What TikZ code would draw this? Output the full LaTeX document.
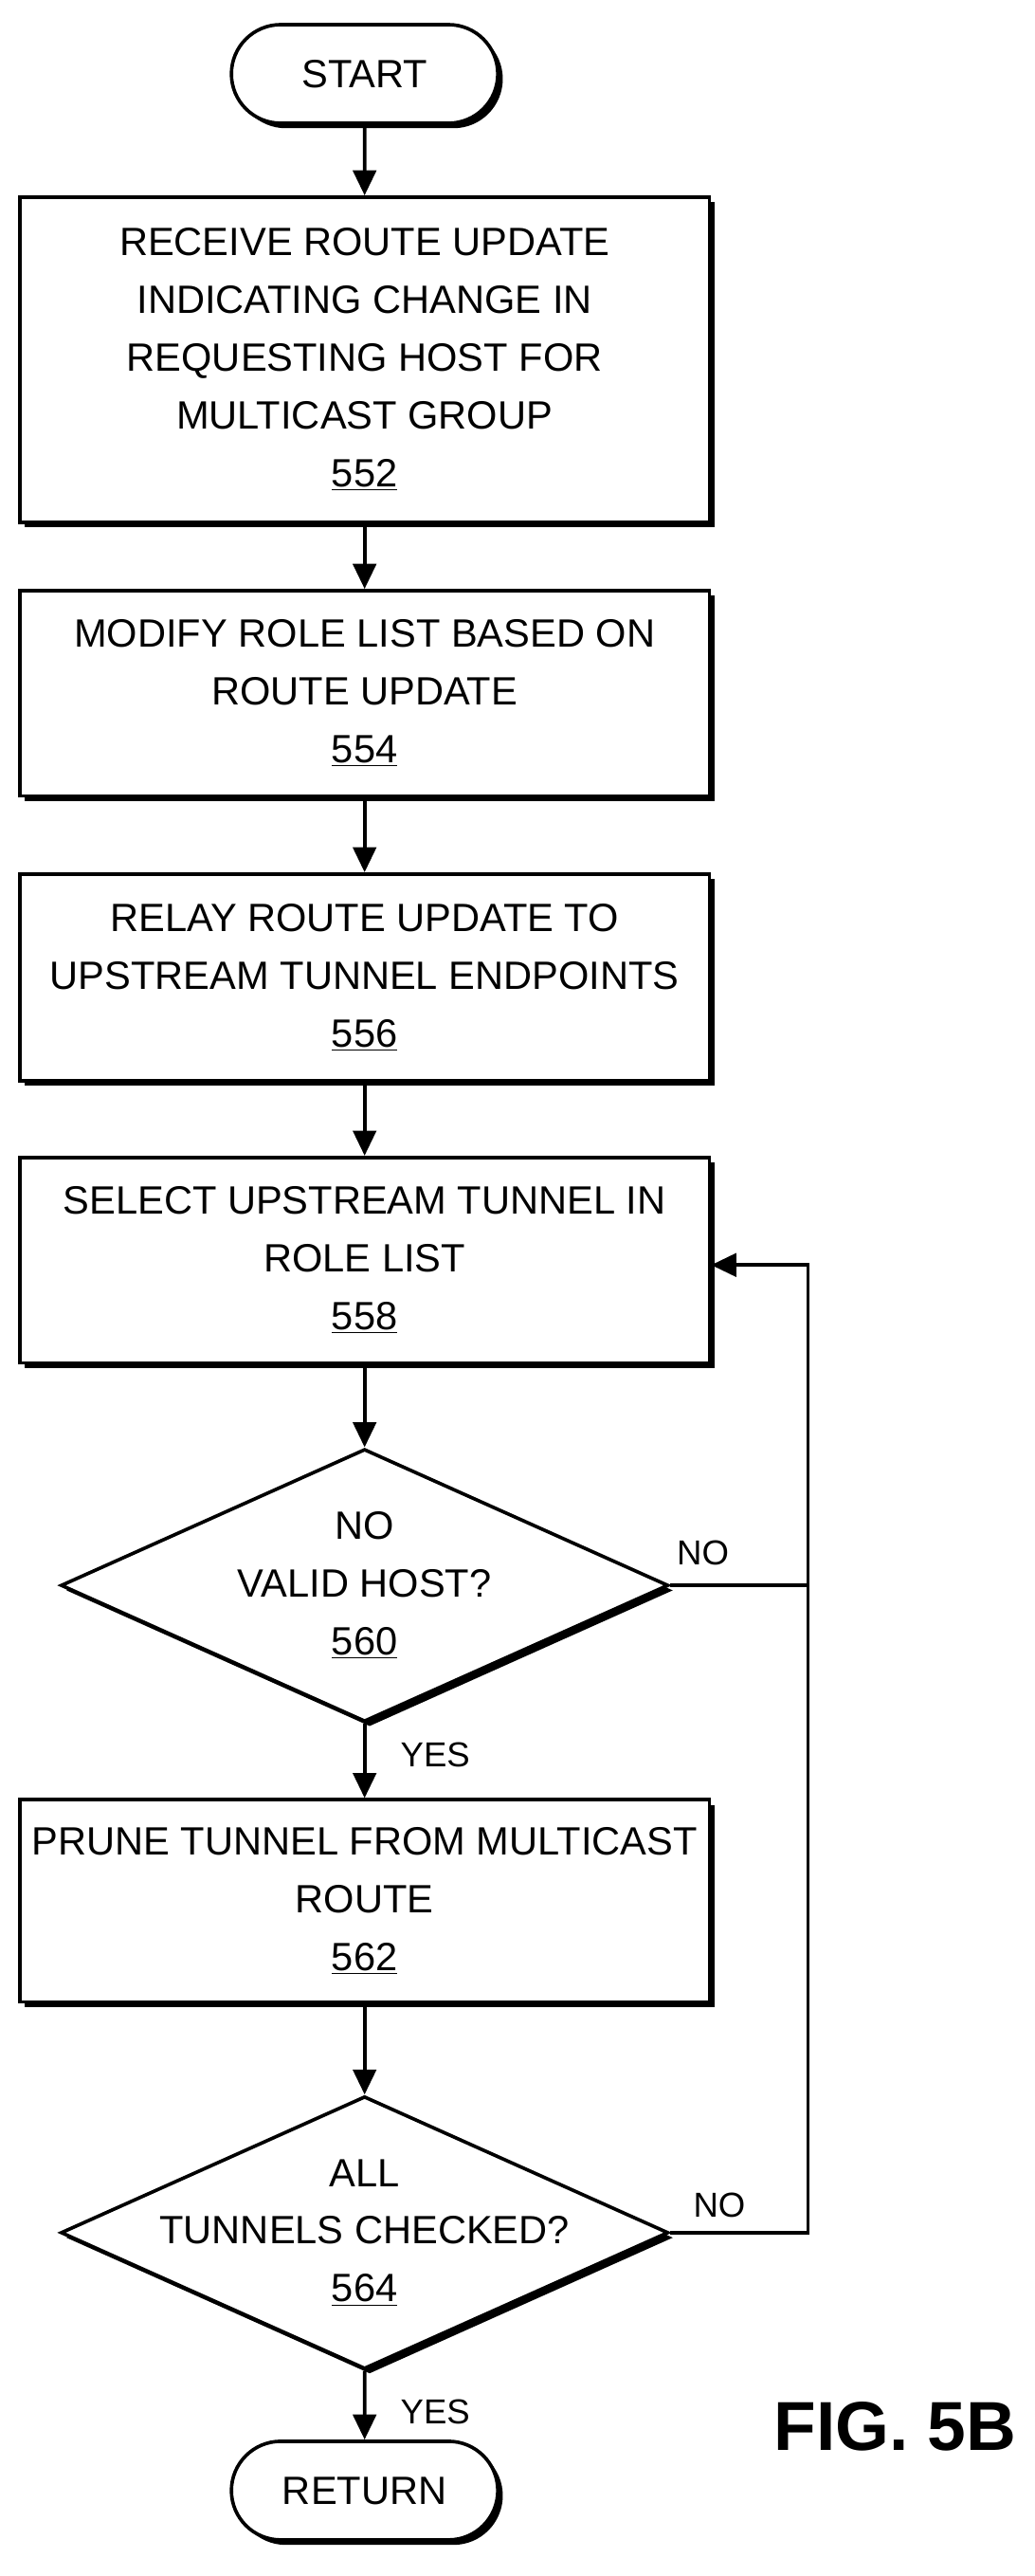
\documentclass[tikz,border=0pt]{standalone}
\usepackage{fontspec}
\setmainfont{Liberation Sans}
\usetikzlibrary{shapes.geometric,shapes.misc,arrows.meta}
\begin{document}
\begin{tikzpicture}[x=0.03cm,y=-0.03cm,
  sh/.style={preaction={fill=black,transform canvas={xshift=2.6pt,yshift=-2.6pt}}},
  box/.style={draw,line width=1.8pt,fill=white,sh,minimum width=420*0.03cm,align=center,font=\fontsize{20.5}{30}\selectfont,inner sep=0pt},
  term/.style={draw,line width=1.8pt,fill=white,sh,rounded rectangle,minimum width=170*0.03cm,minimum height=60*0.03cm,font=\fontsize{20.5}{30}\selectfont},
  dia/.style={draw,line width=1.8pt,fill=white,sh,diamond,minimum width=370*0.03cm,minimum height=166*0.03cm,inner sep=0pt},
  txt/.style={align=center,font=\fontsize{20.5}{30}\selectfont},
  lab/.style={font=\fontsize{18}{20}\selectfont},
  arr/.style={line width=1.8pt,-{Triangle[length=13pt,width=12pt]}},
  ln/.style={line width=1.8pt}]
\useasboundingbox (0,0) rectangle (630,1568);
\node[term] (start) at (222,45) {START};
\node[box,minimum height=198*0.03cm] (b552) at (222,219) {RECEIVE ROUTE UPDATE\\INDICATING CHANGE IN\\REQUESTING HOST FOR\\MULTICAST GROUP\\\underline{552}};
\node[box,minimum height=125*0.03cm] (b554) at (222,422) {MODIFY ROLE LIST BASED ON\\ROUTE UPDATE\\\underline{554}};
\node[box,minimum height=126*0.03cm] (b556) at (222,595) {RELAY ROUTE UPDATE TO\\UPSTREAM TUNNEL ENDPOINTS\\\underline{556}};
\node[box,minimum height=125*0.03cm] (b558) at (222,767) {SELECT UPSTREAM TUNNEL IN\\ROLE LIST\\\underline{558}};
\node[dia] (d560) at (222,965) {};
\node[txt] (t560) at (222,965) {NO\\VALID HOST?\\\underline{560}};
\node[box,minimum height=123*0.03cm] (b562) at (222,1157) {PRUNE TUNNEL FROM MULTICAST\\ROUTE\\\underline{562}};
\node[dia] (d564) at (222,1359) {};
\node[txt] (t564) at (222,1359) {ALL\\TUNNELS CHECKED?\\\underline{564}};
\node[term] (ret) at (222,1516) {RETURN};
\node[font=\fontsize{36}{40}\selectfont\bfseries] (fig) at (545,1477) {FIG. 5B};
\coordinate (j1) at (492,965);
\coordinate (j2) at (492,1359);
\coordinate (j0) at (492,770);
\draw[arr] (start) -- (b552);
\draw[arr] (b552) -- (b554);
\draw[arr] (b554) -- (b556);
\draw[arr] (b556) -- (b558);
\draw[arr] (b558) -- (d560);
\draw[arr] (d560) -- (b562);
\draw[arr] (b562) -- (d564);
\draw[arr] (d564) -- (ret);
\draw[ln] (d560.east) -- (j1);
\draw[ln] (d564.east) -- (j2) -- (j1);
\draw[arr] (j1) -- (j0) -- (b558.east |- j0);
\node[lab] (no1) at (428,945) {NO};
\node[lab] (no2) at (438,1342) {NO};
\node[lab] (yes1) at (265,1068) {YES};
\node[lab] (yes2) at (265,1468) {YES};
\end{tikzpicture}
\end{document}
